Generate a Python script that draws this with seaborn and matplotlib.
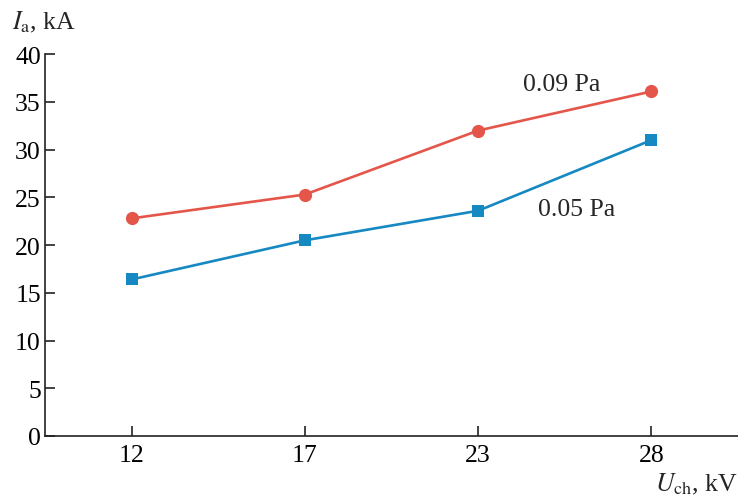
import matplotlib
matplotlib.use("Agg")
import matplotlib.pyplot as plt
import pandas as pd
import seaborn as sns

# data
voltages = ["12", "17", "23", "28"]
current_009 = [22.8, 25.3, 32.0, 36.1]
current_005 = [16.4, 20.5, 23.6, 31.0]
yticks = [0, 5, 10, 15, 20, 25, 30, 35, 40]

df = pd.DataFrame({
    "U": voltages * 2,
    "I": current_009 + current_005,
    "p": ["0.09 Pa"] * 4 + ["0.05 Pa"] * 4,
})

sns.set_theme(style="ticks")
plt.rcParams["font.family"] = ["Liberation Serif", "DejaVu Serif"]
plt.rcParams["mathtext.fontset"] = "stix"

fig = plt.figure(figsize=(7.38, 5.02), dpi=100)
ax = fig.add_axes([0.061, 0.1295, 0.939, 0.7605])

red = "#e4564a"
blue = "#1688c2"
sns.lineplot(data=df[df.p == "0.09 Pa"], x="U", y="I", color=red, marker="o",
             markersize=9.5, markeredgewidth=0, linewidth=1.9, ax=ax)
sns.lineplot(data=df[df.p == "0.05 Pa"], x="U", y="I", color=blue, marker="s",
             markersize=8.5, markeredgewidth=0, linewidth=1.9, ax=ax)

ax.set_xlim(-0.5, 3.5)
ax.set_ylim(0, 40)
ax.set_yticks(yticks)
ax.set_xlabel("")
ax.set_ylabel("")
sns.despine(ax=ax)
for s in ["left", "bottom"]:
    ax.spines[s].set_color("#222222")
    ax.spines[s].set_linewidth(1.2)
ax.tick_params(direction="in", length=7, width=1.2, colors="#222222",
               labelsize=18.5, labelcolor="black")
ax.tick_params(axis="x", pad=6)
ax.tick_params(axis="y", pad=3)

ax.text(2.48, 36.9, "0.09 Pa", fontsize=18.5, ha="center", va="center")
ax.text(2.57, 23.8, "0.05 Pa", fontsize=18.5, ha="center", va="center")

fig.text(0.016, 0.955, r"$I_{\mathrm{a}}$, kA", fontsize=18.5, ha="left", va="center")
fig.text(1.0, 0.035, r"$U_{\mathrm{ch}}$, kV", fontsize=18.5, ha="right", va="center")

fig.savefig("out.png", dpi=100)
